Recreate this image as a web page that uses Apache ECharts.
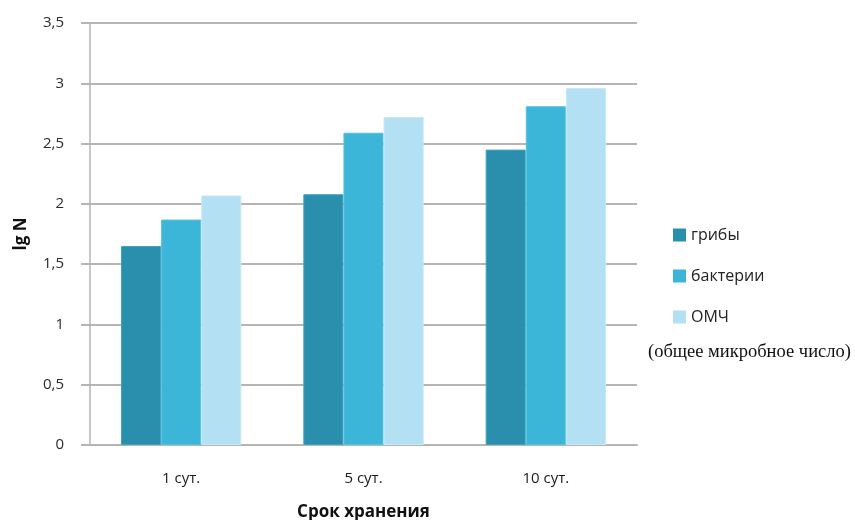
<!DOCTYPE html>
<html>
<head>
<meta charset="utf-8">
<script src="https://cdn.jsdelivr.net/npm/echarts@6/dist/echarts.min.js"></script>
<style>html,body{margin:0;padding:0;background:#fff}#c{width:855px;height:520px}</style>
</head>
<body>
<div id="c"></div>
<script>
const categories = ['1 сут.', '5 сут.', '10 сут.'];
const seriesNames = ['грибы', 'бактерии', 'ОМЧ'];
const griby = [1.65, 2.08, 2.45];
const bakterii = [1.87, 2.59, 2.81];
const omch = [2.07, 2.72, 2.96];
const colors = ['#2A8FAD', '#3CB6D8', '#B3E0F2'];
const borders = ['#3FA3C0', '#55C3E2', '#C6E9F6'];
const seriesData = [griby, bakterii, omch];

const chart = echarts.init(document.getElementById('c'));
const font = 'Open Sans, Liberation Sans, sans-serif';
chart.setOption({
  animation: false,
  textStyle: { fontFamily: font },
  title: {
    text: '(общее микробное число)',
    left: 643, top: 338,
    textStyle: { fontFamily: 'Liberation Serif, DejaVu Serif, serif', fontSize: 18.5, fontWeight: 'normal', color: '#111' }
  },
  legend: {
    orient: 'vertical',
    left: 668, top: 222,
    itemWidth: 13, itemHeight: 13, itemGap: 25,
    icon: 'rect',
    data: seriesNames,
    itemStyle: { borderWidth: 0 },
    textStyle: { fontFamily: font, fontSize: 16, color: '#222' }
  },
  grid: { left: 90, right: 218, top: 23, bottom: 75, containLabel: false, outerBoundsMode: 'none' },
  xAxis: {
    type: 'category',
    data: categories,
    name: 'Срок хранения',
    nameLocation: 'middle',
    nameGap: 59,
    nameTextStyle: { fontFamily: font, fontSize: 17, fontWeight: 'bold', color: '#111' },
    axisLine: { lineStyle: { color: '#B5B5B5', width: 2 } },
    axisTick: { show: false },
    axisLabel: { margin: 26, fontSize: 15, color: '#1a1a1a', fontFamily: font }
  },
  yAxis: {
    type: 'value',
    min: 0, max: 3.5, interval: 0.5,
    name: 'lg N',
    nameLocation: 'middle',
    nameGap: 60,
    nameTextStyle: { fontFamily: font, fontSize: 17, fontWeight: 'bold', color: '#111' },
    axisLine: { show: true, lineStyle: { color: '#B5B5B5', width: 1.5 } },
    axisTick: { show: true, length: 9, lineStyle: { color: '#B5B5B5', width: 2 } },
    axisLabel: {
      margin: 26, fontSize: 15, color: '#2a2a2a', fontFamily: font,
      formatter: v => String(v).replace('.', ',')
    },
    splitLine: { lineStyle: { color: '#B5B5B5', width: 2 } }
  },
  series: seriesNames.map((n, i) => ({
    name: n,
    type: 'bar',
    data: seriesData[i],
    barGap: '0%',
    barCategoryGap: '34%',
    itemStyle: { color: colors[i], borderColor: borders[i], borderWidth: 1 }
  }))
});
</script>
</body>
</html>
